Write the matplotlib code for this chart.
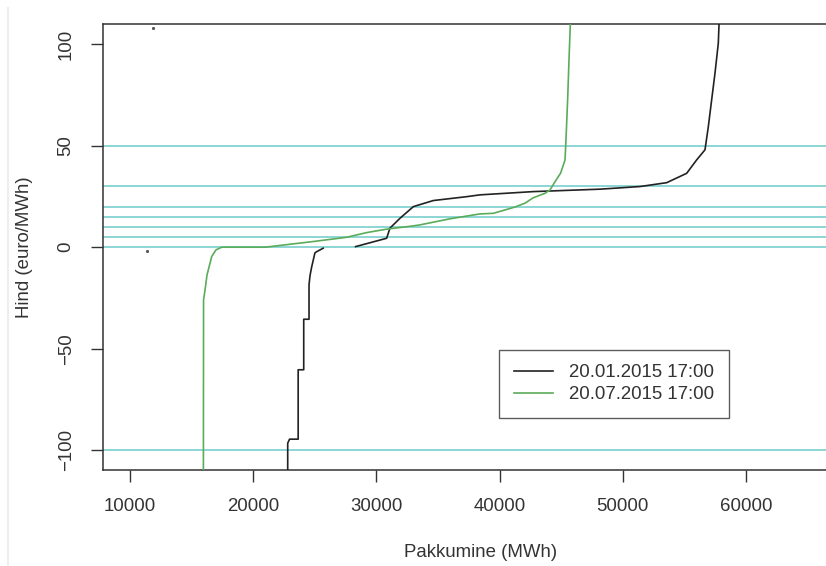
import numpy as np
import matplotlib.pyplot as plt
from matplotlib.lines import Line2D

plt.rcParams['font.family'] = ['Liberation Sans', 'DejaVu Sans']

# pakkumiskõverad: kogus (MWh) ja hind (euro/MWh)
jan_q = [22800, 22800, 22950, 23650, 23650, 24100, 24100, 24530, 24530, 24610,
         24750, 25010, 25150, 25680, np.nan,
         28310, 30830, 31100, 31920, 33000, 34620, 37320, 38410, 42730,
         48150, 51400, 53560, 55180, 55990, 56670, 56940, 57210, 57480,
         57750, 57810, 57810]
jan_p = [-150, -96.6, -94.6, -94.6, -60.4, -60.4, -35.5, -35.5, -18.6, -14,
         -9.6, -2.8, -2.2, -0.5, np.nan,
         0.3, 4.4, 9.4, 14.3, 20, 23, 24.9, 25.8, 27.4,
         28.6, 29.9, 31.8, 36.4, 43, 48, 59.4, 72.6, 85.7,
         100.5, 110, 150]

jul_q = [15950, 15970, 16090, 16250, 16630, 16980, 17440, 20960, 24880, 27590,
         29210, 30830, 32990, 33540, 35970, 38410, 39490, 41250, 42060, 42710,
         43690, 44090, 44500, 44950, 45310, 45420, 45520, 45630, 45740, 45760]
jul_p = [-150, -26, -21, -13.7, -4.6, -1.3, 0, 0, 2.8, 4.9,
         7.2, 8.9, 10.5, 11, 14, 16.4, 16.7, 19.8, 21.7, 24.3,
         26.6, 28.2, 32.3, 36.5, 43, 57.8, 72.6, 92, 110, 150]

# üksikud punktid
dot_q = [11870, 11380]
dot_p = [108, -1.8]

# horisontaalsed hinnatasemed
levels = [-100, 0, 5, 10, 15, 20, 30, 50]

labels = ['20.01.2015 17:00', '20.07.2015 17:00']
x_ticks = [10000, 20000, 30000, 40000, 50000, 60000]
y_ticks = [-100, -50, 0, 50, 100]

fs = 13.4
txt = '#333333'

fig = plt.figure(figsize=(8.26, 5.66), dpi=100)
ax = fig.add_axes([103 / 826, 96 / 566, 756 / 826, 446 / 566])

for lv in levels:
    ax.axhline(lv, color='#8cd6d6', lw=1.4, zorder=1)

ax.plot(jan_q, jan_p, color='#222222', lw=1.2, label=labels[0], zorder=3)
ax.plot(jul_q, jul_p, color='#5aab5a', lw=1.2, label=labels[1], zorder=3)
ax.plot(dot_q, dot_p, ls='none', marker='s', ms=1.1, color='#555555', zorder=3)

ax.set_xlim(7808, 69170)
ax.set_ylim(-109.8, 110)
ax.set_xticks(x_ticks)
ax.set_yticks(y_ticks)
ax.tick_params(length=8.4, width=1.0, color='#333333', pad=12,
               labelsize=fs, labelcolor=txt)
for lab in ax.get_yticklabels():
    lab.set_rotation(90)
    lab.set_va('center')
    lab.set_ha('right')

for side in ['left', 'bottom', 'top', 'right']:
    ax.spines[side].set_color('#333333')
    ax.spines[side].set_linewidth(1.1)

ax.set_xlabel('Pakkumine (MWh)', fontsize=fs, color=txt)
ax.set_ylabel('Hind (euro/MWh)', fontsize=fs, color=txt)
ax.xaxis.set_label_coords(0.5, -0.166)
ax.yaxis.set_label_coords(-0.092, 0.5)

leg = ax.legend(loc='lower left', bbox_to_anchor=(0.5238, 0.1166),
                borderaxespad=0, fontsize=fs, fancybox=False,
                frameon=True, handlelength=2.1, handletextpad=0.85,
                labelspacing=0.25, borderpad=0.8)
leg.get_frame().set_edgecolor('#333333')
leg.get_frame().set_linewidth(1.0)
for t in leg.get_texts():
    t.set_color(txt)

fig.add_artist(Line2D([8 / 826, 8 / 826], [0, 1 - 8 / 566],
                      transform=fig.transFigure, color='#eeeeee', lw=1.5))

fig.savefig('out.png', dpi=100)
